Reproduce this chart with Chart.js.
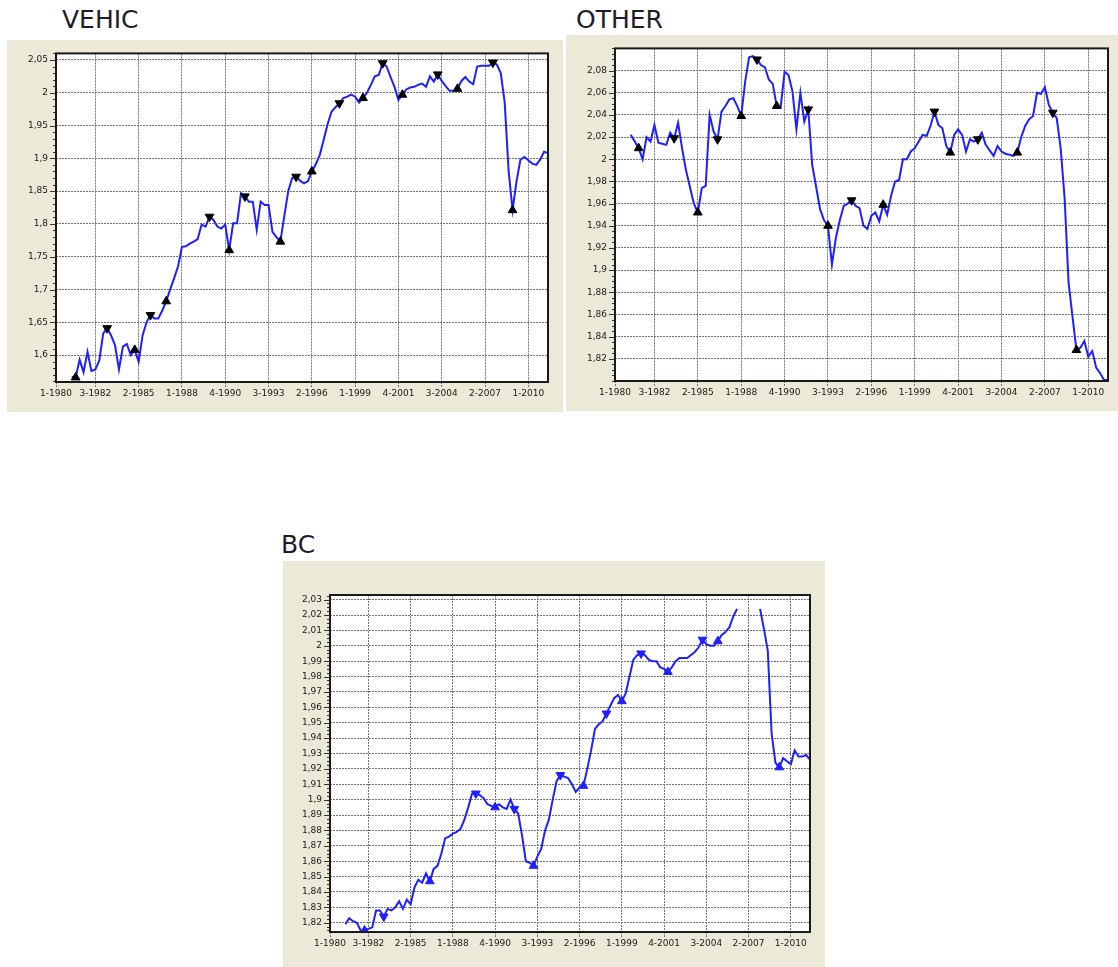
<!DOCTYPE html>
<html>
<head>
<meta charset="utf-8">
<script src="https://cdn.jsdelivr.net/npm/chart.js@4.4.0/dist/chart.umd.min.js"></script>
<style>
  body { margin: 0; width: 1118px; height: 967px; position: relative; overflow: hidden; background: #fff; font-family: 'DejaVu Sans', sans-serif; }
  .title { position: absolute; font-size: 25px; line-height: 25px; color: #1c1c2a; }
  .panel { position: absolute; background: #ECE9D8; }
  .panel canvas { display: block; }
</style>
</head>
<body>
<div class="title" style="left:62px;top:7px">VEHIC</div>
<div class="panel" style="left:7px;top:40px;width:556px;height:372px"><canvas id="vehic" width="556" height="372"></canvas></div>

<div class="title" style="left:576px;top:7px">OTHER</div>
<div class="panel" style="left:566px;top:35px;width:552px;height:376px"><canvas id="other" width="552" height="376"></canvas></div>

<div class="title" style="left:281px;top:532px">BC</div>
<div class="panel" style="left:283px;top:561px;width:542px;height:406px"><canvas id="bc" width="542" height="406"></canvas></div>

<script>
// quarters 1-1980 .. 2-2011
const quarters = [];
for (let y = 1980; y <= 2011; y++) {
    for (let q = 1; q <= 4; q++) {
        if (y === 2011 && q > 2) break;
        quarters.push(q + '-' + y);
    }
}

const xTickLabels = ['1-1980', '3-1982', '2-1985', '1-1988', '4-1990', '3-1993',
                     '2-1996', '1-1999', '4-2001', '3-2004', '2-2007', '1-2010'];

// one row per year (1980 .. 2011)
const vehic = [
    null, null, null, null,
    1.567, 1.566, 1.593, 1.574,
    1.605, 1.576, 1.578, 1.592,
    1.633, 1.641, 1.630, 1.615,
    1.578, 1.613, 1.617, 1.600,
    1.608, 1.590, 1.630, 1.650,
    1.661, 1.656, 1.656, 1.668,
    1.682, 1.700, 1.717, 1.735,
    1.765, 1.766, 1.770, 1.773,
    1.777, 1.799, 1.796, 1.811,
    1.806, 1.796, 1.793, 1.799,
    1.760, 1.801, 1.801, 1.847,
    1.842, 1.834, 1.834, 1.791,
    1.834, 1.829, 1.829, 1.788,
    1.780, 1.773, 1.812, 1.850,
    1.870, 1.872, 1.866, 1.862,
    1.865, 1.880, 1.891, 1.905,
    1.928, 1.952, 1.971, 1.978,
    1.984, 1.992, 1.994, 1.997,
    1.994, 1.985, 1.992, 2.000,
    2.012, 2.025, 2.027, 2.045,
    2.040, 2.024, 2.009, 1.989,
    1.997, 2.005, 2.008, 2.009,
    2.012, 2.014, 2.009, 2.025,
    2.017, 2.028, 2.018, 2.010,
    2.003, 2.003, 2.006, 2.018,
    2.024, 2.017, 2.013, 2.040,
    2.041, 2.041, 2.041, 2.046,
    2.043, 2.030, 1.985, 1.880,
    1.821, 1.865, 1.898, 1.902,
    1.897, 1.892, 1.890, 1.898,
    1.910, 1.908
];
const vehicPeaks = ['2-1983', '1-1986', '4-1989', '1-1992', '2-1995', '1-1998', '4-2000', '2-2004', '4-2007'];
const vehicTroughs = ['2-1981', '1-1985', '1-1987', '1-1991', '2-1994', '2-1996', '3-1999', '1-2002', '3-2005', '1-2009'];
const vehicYTicks = [1.6, 1.65, 1.7, 1.75, 1.8, 1.85, 1.9, 1.95, 2, 2.05];

const other = [
    null, null, null, null,
    2.022, 2.016, 2.010, 2.000,
    2.020, 2.016, 2.031, 2.015,
    2.014, 2.013, 2.024, 2.019,
    2.033, 2.010, 1.990, 1.975,
    1.960, 1.952, 1.974, 1.976,
    2.040, 2.025, 2.018, 2.043,
    2.048, 2.054, 2.055, 2.048,
    2.039, 2.070, 2.092, 2.093,
    2.090, 2.085, 2.083, 2.072,
    2.068, 2.048, 2.047, 2.079,
    2.076, 2.061, 2.027, 2.060,
    2.034, 2.045, 1.995, 1.975,
    1.955, 1.945, 1.940, 1.905,
    1.929, 1.945, 1.958, 1.960,
    1.963, 1.958, 1.956, 1.940,
    1.937, 1.949, 1.952, 1.944,
    1.959, 1.950, 1.967, 1.980,
    1.981, 2.000, 2.000, 2.007,
    2.010, 2.016, 2.022, 2.021,
    2.030, 2.043, 2.031, 2.028,
    2.012, 2.006, 2.022, 2.027,
    2.022, 2.007, 2.018, 2.016,
    2.018, 2.024, 2.013, 2.008,
    2.003, 2.012, 2.007, 2.005,
    2.004, 2.003, 2.006, 2.020,
    2.030, 2.036, 2.039, 2.060,
    2.059, 2.065, 2.049, 2.042,
    2.037, 2.010, 1.965, 1.889,
    1.858, 1.828, 1.830, 1.836,
    1.822, 1.827, 1.812, 1.807,
    1.801, 1.801
];
const otherPeaks = ['4-1983', '3-1986', '1-1989', '2-1992', '1-1995', '2-2000', '1-2003', '4-2007'];
const otherTroughs = ['3-1981', '2-1985', '1-1988', '2-1990', '3-1993', '1-1997', '2-2001', '3-2005', '2-2009'];
const otherYTicks = [1.82, 1.84, 1.86, 1.88, 1.9, 1.92, 1.94, 1.96, 1.98, 2, 2.02, 2.04, 2.06, 2.08];

const bc = [
    null, null, null, null,
    1.819, 1.823, 1.821, 1.820,
    1.815, 1.815, 1.816, 1.817,
    1.828, 1.828, 1.824, 1.829,
    1.828, 1.830, 1.834, 1.829,
    1.835, 1.832, 1.843, 1.848,
    1.846, 1.852, 1.847, 1.855,
    1.857, 1.865, 1.875, 1.876,
    1.878, 1.879, 1.881, 1.887,
    1.895, 1.904, 1.904, 1.903,
    1.901, 1.897, 1.896, 1.895,
    1.897, 1.895, 1.894, 1.900,
    1.894, 1.891, 1.877, 1.860,
    1.859, 1.857, 1.863, 1.868,
    1.880, 1.887, 1.900, 1.912,
    1.916, 1.915, 1.914, 1.910,
    1.905, 1.908, 1.909, 1.920,
    1.932, 1.946, 1.949, 1.951,
    1.956, 1.961, 1.966, 1.968,
    1.964, 1.969, 1.980, 1.991,
    1.994, 1.995, 1.994, 1.991,
    1.990, 1.990, 1.986, 1.985,
    1.983, 1.986, 1.990, 1.992,
    1.992, 1.992, 1.994, 1.996,
    1.999, 2.004, 2.001, 2.000,
    2.000, 2.003, 2.007, 2.009,
    2.012, 2.019, 2.024, null,
    null, null, null, null,
    2.024, 2.011, 1.997, 1.943,
    1.924, 1.921, 1.927, 1.925,
    1.923, 1.932, 1.928, 1.928,
    1.929, 1.926
];
const bcPeaks = ['3-1983', '3-1989', '1-1992', '1-1995', '1-1998', '2-2000', '2-2004'];
const bcTroughs = ['2-1982', '3-1986', '4-1990', '2-1993', '3-1996', '1-1999', '1-2002', '2-2005', '2-2009'];
const bcYTicks = [1.82, 1.83, 1.84, 1.85, 1.86, 1.87, 1.88, 1.89, 1.9, 1.91, 1.92, 1.93, 1.94,
                  1.95, 1.96, 1.97, 1.98, 1.99, 2, 2.01, 2.02, 2.03];

const tickFont = { family: 'DejaVu Sans', size: 9 };
const gridColor = '#747474';

function fmt(v) {
    return v.toFixed(2).replace(/0+$/, '').replace(/\.$/, '').replace('.', ',');
}

// white plot area, small ticks on the value axis and the black frame
const framePlugin = {
    id: 'frame',
    beforeDraw(chart) {
        const { ctx, chartArea: a } = chart;
        ctx.save();
        ctx.fillStyle = '#fff';
        ctx.fillRect(a.left, a.top, a.right - a.left, a.bottom - a.top);
        ctx.restore();
    },
    afterDraw(chart, args, opts) {
        const { ctx, chartArea: a } = chart;
        const y = chart.scales.y;
        ctx.save();
        ctx.strokeStyle = '#333';
        ctx.lineWidth = 1;
        for (let v = Math.ceil(y.min / opts.minor) * opts.minor; v <= y.max + 1e-9; v += opts.minor) {
            const py = Math.round(y.getPixelForValue(v)) + 0.5;
            ctx.beginPath();
            ctx.moveTo(a.left - 3, py);
            ctx.lineTo(a.left, py);
            ctx.stroke();
        }
        y.ticks.forEach(t => {
            const py = Math.round(y.getPixelForValue(t.value)) + 0.5;
            ctx.beginPath();
            ctx.moveTo(a.left - 6, py);
            ctx.lineTo(a.left, py);
            ctx.stroke();
        });
        ctx.strokeStyle = '#1a1a1a';
        ctx.lineWidth = 2;
        ctx.strokeRect(a.left, a.top, a.right - a.left, a.bottom - a.top);
        ctx.restore();
    }
};

function makeChart(id, values, peaks, troughs, yTicks, yMin, yMax, minor, markerColor, box) {
    const isTurn = c => peaks.includes(quarters[c.dataIndex]) || troughs.includes(quarters[c.dataIndex]);
    new Chart(document.getElementById(id), {
        type: 'line',
        data: {
            labels: quarters,
            datasets: [{
                data: values,
                borderColor: '#1f1fff',
                borderWidth: 2,
                tension: 0,
                spanGaps: false,
                pointStyle: 'triangle',
                pointRadius: c => isTurn(c) ? 5 : 0,
                pointRotation: c => peaks.includes(quarters[c.dataIndex]) ? 180 : 0,
                pointBackgroundColor: markerColor,
                pointBorderColor: markerColor,
                pointBorderWidth: 1
            }]
        },
        options: {
            responsive: false,
            animation: false,
            layout: { autoPadding: false, padding: { left: 0, top: box.top, right: box.right, bottom: 0 } },
            plugins: {
                legend: { display: false },
                tooltip: { enabled: false },
                frame: { minor: minor }
            },
            scales: {
                x: {
                    type: 'category',
                    offset: false,
                    afterBuildTicks: s => { s.ticks = s.ticks.filter(t => xTickLabels.includes(quarters[t.value])); },
                    afterFit: s => { s.height = box.bottom; },
                    grid: { color: gridColor, tickColor: gridColor, tickLength: 5, tickBorderDash: [2, 1] },
                    border: { display: false, dash: [2, 1] },
                    ticks: { autoSkip: false, maxRotation: 0, padding: 1, color: '#1a1a1a', font: tickFont }
                },
                y: {
                    type: 'linear',
                    min: yMin,
                    max: yMax,
                    afterBuildTicks: s => { s.ticks = yTicks.map(v => ({ value: v })); },
                    afterFit: s => { s.width = box.left; },
                    grid: { color: gridColor, drawTicks: false },
                    border: { display: false, dash: [2, 1] },
                    ticks: { padding: 8, color: '#1a1a1a', font: tickFont, callback: v => fmt(v) }
                }
            }
        },
        plugins: [framePlugin]
    });
}

makeChart('vehic', vehic, vehicPeaks, vehicTroughs, vehicYTicks, 1.559, 2.06, 0.01, '#000',
          { left: 49, top: 13, right: 15, bottom: 30 });
makeChart('other', other, otherPeaks, otherTroughs, otherYTicks, 1.8, 2.1, 0.005, '#000',
          { left: 49, top: 13, right: 10, bottom: 30 });
makeChart('bc', bc, bcPeaks, bcTroughs, bcYTicks, 1.814, 2.033, 0.0025, '#1f1fff',
          { left: 47, top: 34, right: 15, bottom: 35 });
</script>
</body>
</html>
